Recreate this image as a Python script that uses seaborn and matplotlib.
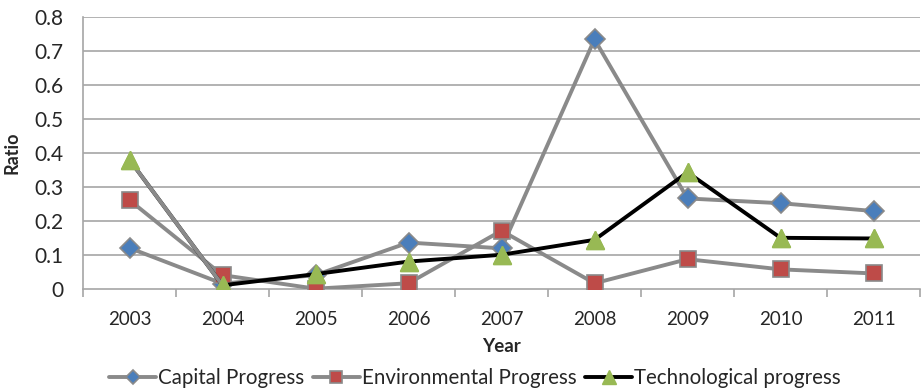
import matplotlib
matplotlib.use("Agg")
import matplotlib.pyplot as plt
import seaborn as sns
import pandas as pd
import numpy as np

years = ["2003", "2004", "2005", "2006", "2007", "2008", "2009", "2010", "2011"]
capital = [0.12, 0.015, 0.04, 0.136, 0.119, 0.735, 0.266, 0.252, 0.229]
environmental = [0.261, 0.04, 0.0, 0.016, 0.171, 0.016, 0.087, 0.057, 0.045]
technological = [0.38, 0.01, 0.043, 0.08, 0.10, 0.144, 0.343, 0.15, 0.148]
y_ticks = [0, 0.1, 0.2, 0.3, 0.4, 0.5, 0.6, 0.7, 0.8]

sns.set_theme(style="white")
plt.rcParams["font.family"] = ["Lato", "DejaVu Sans"]

fig = plt.figure(figsize=(9.24, 3.92), dpi=100)
ax = fig.add_axes([83 / 924, 1 - 288.7 / 392, (920 - 83) / 924, (288.7 - 17.3) / 392])

x = np.arange(len(years))
gray = "#8a8a8a"

for yy in y_ticks[1:]:
    ax.axhline(yy, color="#a6a6a6", lw=1.2, zorder=0)

sns.lineplot(x=x, y=capital, ax=ax, color=gray, lw=2.8, marker="D", markersize=10,
             markerfacecolor="#4a7ebb", markeredgecolor=gray, markeredgewidth=1.2,
             label="Capital Progress", zorder=3)
sns.lineplot(x=x, y=environmental, ax=ax, color=gray, lw=2.8, marker="s", markersize=12,
             markerfacecolor="#be4b48", markeredgecolor=gray, markeredgewidth=1.2,
             label="Environmental Progress", zorder=3)
sns.lineplot(x=x, y=technological, ax=ax, color="black", lw=2.8, marker="^", markersize=13,
             markerfacecolor="#98b954", markeredgecolor="#98b954", markeredgewidth=1,
             label="Technological progress", zorder=4)
# first segment of the technological series is drawn in gray in the original
sns.lineplot(x=x[:2], y=technological[:2], ax=ax, color=gray, lw=2.8, zorder=4.5, legend=False)
ax.plot(x, technological, ls="none", marker="^", markersize=13, color="#98b954", zorder=5)

ax.set_xlim(-0.5, len(years) - 0.5)
ax.set_ylim(0, 0.8)
ax.set_yticks(y_ticks)
ax.set_yticklabels(["0" if v == 0 else f"{v:.1f}" for v in y_ticks], fontsize=15)
ax.set_xticks(x)
ax.set_xticklabels(years, fontsize=13.5)
ax.set_xticks(np.arange(-0.5, len(years)), minor=True)
ax.tick_params(axis="x", which="major", length=0, pad=16)
ax.tick_params(axis="x", which="minor", length=6, color="#a6a6a6", width=1.2, direction="out")
ax.tick_params(axis="y", length=6, color="#a6a6a6", width=1.2, direction="out", pad=8)
ax.xaxis.set_tick_params(which="minor", bottom=True)

for side in ["top", "right"]:
    ax.spines[side].set_visible(False)
ax.spines["left"].set_color("#a6a6a6")
ax.spines["left"].set_linewidth(1.2)
ax.spines["bottom"].set_color("#a6a6a6")
ax.spines["bottom"].set_linewidth(1.2)

ax.set_xlabel("Year", fontsize=13.5, fontweight="bold", labelpad=7)
ax.set_ylabel("Ratio", fontsize=13, fontweight="bold", labelpad=10)

handles, labels = ax.get_legend_handles_labels()
ax.get_legend().remove()
fig.legend(handles, labels, loc="center", bbox_to_anchor=(0.514, 0.035), ncol=3, frameon=False,
           fontsize=14.8, handlelength=2.3, handletextpad=0.1, columnspacing=0.4, markerscale=0.75)

fig.savefig("out.png", dpi=100)
